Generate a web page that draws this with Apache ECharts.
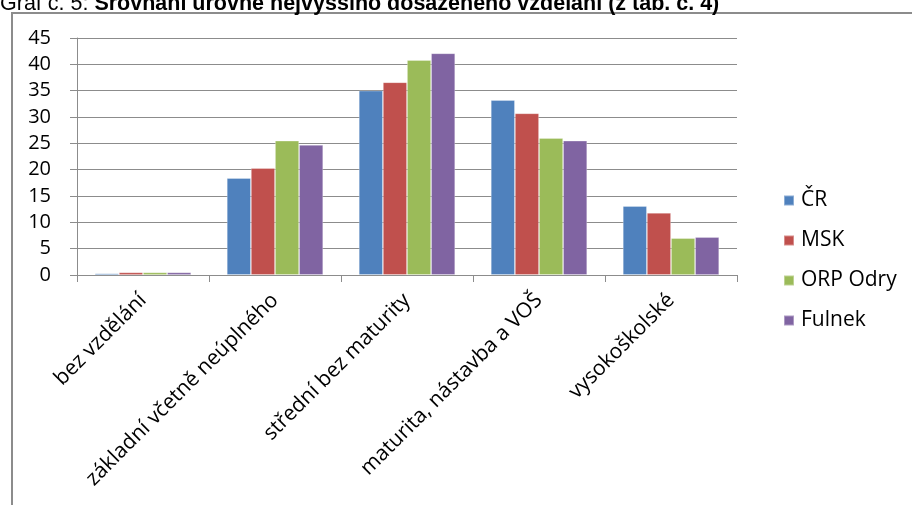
<!DOCTYPE html>
<html>
<head>
<meta charset="utf-8">
<script src="https://cdn.jsdelivr.net/npm/echarts@6/dist/echarts.min.js"></script>
<style>
html,body{margin:0;padding:0;background:#fff;}
#c{width:912px;height:505px;}
</style>
</head>
<body>
<div id="c"></div>
<script>
const categories = ['bez vzdělání', 'základní včetně neúplného', 'střední bez maturity', 'maturita, nástavba a VOŠ', 'vysokoškolské'];
const seriesNames = ['ČR', 'MSK', 'ORP Odry', 'Fulnek'];
const valuesCR = [0.3, 18.4, 35.0, 33.2, 13.1];
const valuesMSK = [0.5, 20.3, 36.6, 30.7, 11.8];
const valuesORP = [0.5, 25.5, 40.8, 26.0, 7.0];
const valuesFulnek = [0.5, 24.7, 42.1, 25.5, 7.2];
const yTicks = [0, 5, 10, 15, 20, 25, 30, 35, 40, 45];
const colors = ['#4F81BD', '#C0504D', '#9BBB59', '#8064A2'];
const allValues = [valuesCR, valuesMSK, valuesORP, valuesFulnek];

const font = "'Open Sans', Lato, sans-serif";
const tfont = "'Liberation Sans', Arial, sans-serif";
const chart = echarts.init(document.getElementById('c'), null, {renderer: 'canvas'});
chart.setOption({
  animation: false,
  color: colors,
  graphic: [
    {type: 'rect', shape: {x: 12, y: 13, width: 920, height: 520}, style: {fill: 'none', stroke: '#8c8c8c', lineWidth: 2}, z: 0},
    {type: 'text', left: 0, top: -7, style: {
      rich: {n: {fontFamily: tfont, fontSize: 21.5, fill: '#000'},
             b: {fontFamily: tfont, fontSize: 21.5, fontWeight: 'bold', fill: '#000'}},
      text: '{n|Graf č. 5: }{b|Srovnání úrovně nejvyššího dosaženého vzdělání (z tab. č. 4)}'
    }}
  ],
  grid: {left: 77, right: 175, top: 38, bottom: 230, containLabel: false},
  legend: {
    orient: 'vertical', left: 778, top: 185,
    itemWidth: 10, itemHeight: 10, itemGap: 19,
    icon: 'rect',
    textStyle: {fontFamily: font, fontSize: 21, color: '#000', padding: [0, 0, 0, 2]},
    data: seriesNames
  },
  xAxis: {
    type: 'category', data: categories,
    axisLine: {lineStyle: {color: '#8c8c8c', width: 1}},
    axisTick: {show: true, length: 7, alignWithLabel: false, lineStyle: {color: '#8c8c8c'}},
    axisLabel: {rotate: 45, interval: 0, margin: 22, fontFamily: font, fontSize: 21, color: '#000'}
  },
  yAxis: {
    type: 'value', min: 0, max: 45, interval: 5,
    axisLine: {show: true, lineStyle: {color: '#8c8c8c', width: 1}},
    axisTick: {show: true, length: 7, lineStyle: {color: '#8c8c8c'}},
    splitLine: {lineStyle: {color: '#8c8c8c', width: 1}},
    axisLabel: {margin: 26, fontFamily: font, fontSize: 20, color: '#000',
      formatter: v => yTicks.includes(v) ? String(v) : ''}
  },
  series: seriesNames.map((name, i) => ({
    name: name, type: 'bar', data: allValues[i],
    barGap: '0%', barCategoryGap: '27%',
    itemStyle: {color: colors[i], borderColor: 'rgba(255,255,255,0.35)', borderWidth: 0.8}
  }))
});
</script>
</body>
</html>
